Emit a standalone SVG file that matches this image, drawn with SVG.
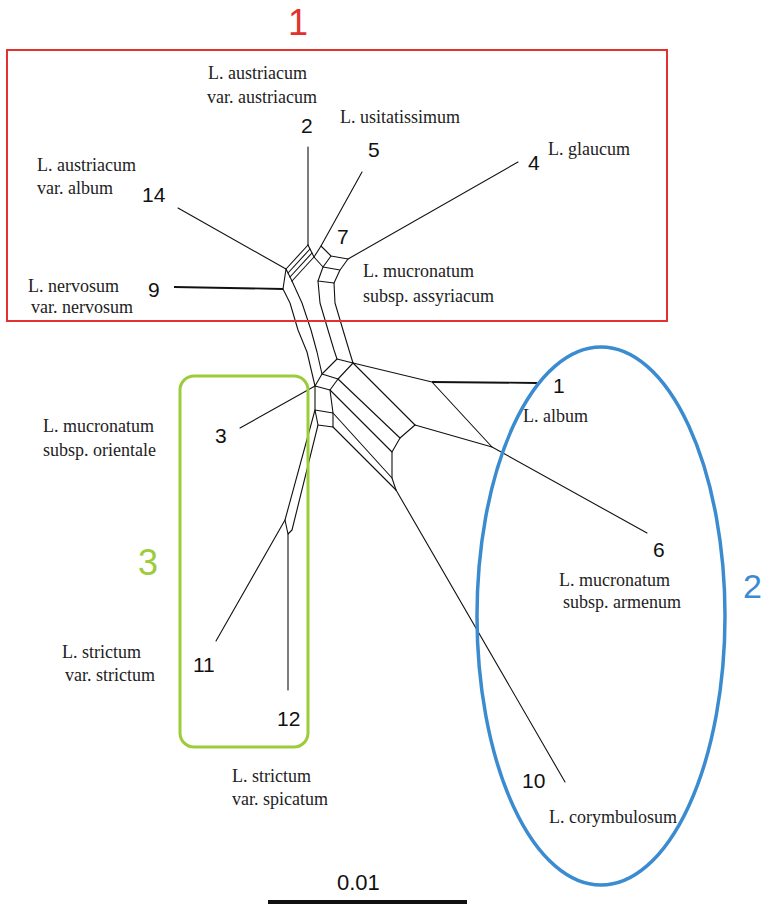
<svg xmlns="http://www.w3.org/2000/svg" width="764" height="905" viewBox="0 0 764 905">
<style>
.e{fill:none;stroke:#111;stroke-width:1.1;stroke-linejoin:round;stroke-linecap:round}
.ek{fill:none;stroke:#111;stroke-width:1.8}
.num{font-family:"Liberation Sans",Arial,sans-serif;font-size:21px;fill:#111}
.lbl{font-family:"Liberation Serif","Times New Roman",serif;font-size:18px;fill:#222}
.grp{font-family:"Liberation Sans",Arial,sans-serif;font-size:36px}
</style>
<rect width="764" height="905" fill="#fff"/>
<g id="connectors">
<path class="e" d="M308,147 L308,245"/>
<path class="e" d="M362,172 L321,246"/>
<path class="e" d="M518,162 L348,259"/>
<path class="e" d="M178,208 L286,269"/>
<path class="ek" d="M174,287 L283,289"/>
<path class="e" d="M286,269 L308,245 M288,273 L310,249 M290,277 L312,253 M292,281 L314,257"/>
<path class="e" d="M283,289 L286,269 L292,281 M308,245 L314,257"/>
<path class="e" d="M314,257 L321,246 L331,256 L323,267 Z M331,256 L348,259 L340,270 L323,267 M323,267 L318,281 L334,283 L340,270"/>
<path class="e" d="M283,289 L290,303 L298,330 L307,352 L315,386"/>
<path class="e" d="M292,281 L302,303 L311,330 L317,352 L322,374"/>
<path class="e" d="M318,281 L320,303 L328,330 L334,350 L337,359"/>
<path class="e" d="M334,283 L335,303 L343,330 L349,350 L353,363"/>
<path class="e" d="M337,359 L353,363 L338,379 L322,374 Z M322,374 L315,386 L330,390 L338,379 M315,386 L315,410 L333,413 L330,390 M315,410 L318,425 L333,427 L333,413"/>
<path class="e" d="M353,363 L415,425 M338,379 L400,438 M330,390 L392,452 M333,413 L392,478 M333,427 L396,490"/>
<path class="e" d="M415,425 L400,438 L392,452 L392,478 L396,490"/>
<path class="e" d="M353,363 L432,382 L492,447 L415,425"/>
<path class="ek" d="M432,382 L537,383"/>
<path class="e" d="M492,447 L647,533"/>
<path class="e" d="M396,490 L565,782"/>
<path class="e" d="M315,386 L240,428"/>
<path class="e" d="M315,410 L285,520 L288,534 L292,530 L318,425"/>
<path class="e" d="M288,534 L288,690"/>
<path class="e" d="M285,520 L216,641"/>
</g>
<g id="taxon-2"><text class="num" x="301" y="133">2</text><text class="lbl" x="208" y="79">L. austriacum</text><text class="lbl" x="207" y="103">var. austriacum</text></g>
<g id="taxon-5"><text class="num" x="368" y="157">5</text><text class="lbl" x="340" y="123">L. usitatissimum</text></g>
<g id="taxon-4"><text class="num" x="528" y="170">4</text><text class="lbl" x="548" y="155">L. glaucum</text></g>
<g id="taxon-14"><text class="num" x="142" y="202">14</text><text class="lbl" x="37" y="171">L. austriacum</text><text class="lbl" x="37" y="194">var. album</text></g>
<g id="taxon-7"><text class="num" x="337" y="244">7</text><text class="lbl" x="363" y="277">L. mucronatum</text><text class="lbl" x="363" y="302">subsp. assyriacum</text></g>
<g id="taxon-9"><text class="num" x="148" y="297">9</text><text class="lbl" x="28" y="292">L. nervosum</text><text class="lbl" x="31" y="313">var. nervosum</text></g>
<g id="taxon-1"><text class="num" x="553" y="393">1</text><text class="lbl" x="523" y="422">L. album</text></g>
<g id="taxon-3"><text class="num" x="215" y="443">3</text><text class="lbl" x="43" y="432">L. mucronatum</text><text class="lbl" x="43" y="456">subsp. orientale</text></g>
<g id="taxon-6"><text class="num" x="653" y="557">6</text><text class="lbl" x="559" y="586">L. mucronatum</text><text class="lbl" x="563" y="608">subsp. armenum</text></g>
<g id="taxon-11"><text class="num" x="193" y="672">11</text><text class="lbl" x="62" y="658">L. strictum</text><text class="lbl" x="65" y="681">var. strictum</text></g>
<g id="taxon-12"><text class="num" x="277" y="726">12</text><text class="lbl" x="232" y="782">L. strictum</text><text class="lbl" x="232" y="805">var. spicatum</text></g>
<g id="taxon-10"><text class="num" x="522" y="788">10</text><text class="lbl" x="549" y="823">L. corymbulosum</text></g>
<g id="group-1"><rect x="7" y="50" width="660" height="271" fill="none" stroke="#E2312F" stroke-width="2"/><text class="grp" x="298" y="35" text-anchor="middle" fill="#E2312F">1</text></g>
<g id="group-3"><rect x="180" y="376" width="128" height="371" rx="14" fill="none" stroke="#9CCB3B" stroke-width="3"/><text class="grp" x="148" y="575" text-anchor="middle" fill="#9CCB3B">3</text></g>
<g id="group-2"><ellipse cx="601" cy="616" rx="124" ry="269" fill="none" stroke="#3B8BD0" stroke-width="3.5"/><text class="grp" x="743" y="598" fill="#3B8BD0" style="font-size:34px">2</text></g>
<g id="scale"><rect x="268" y="900" width="199" height="4" fill="#111"/><text class="num" x="337" y="890" style="font-size:22px">0.01</text></g>
</svg>
